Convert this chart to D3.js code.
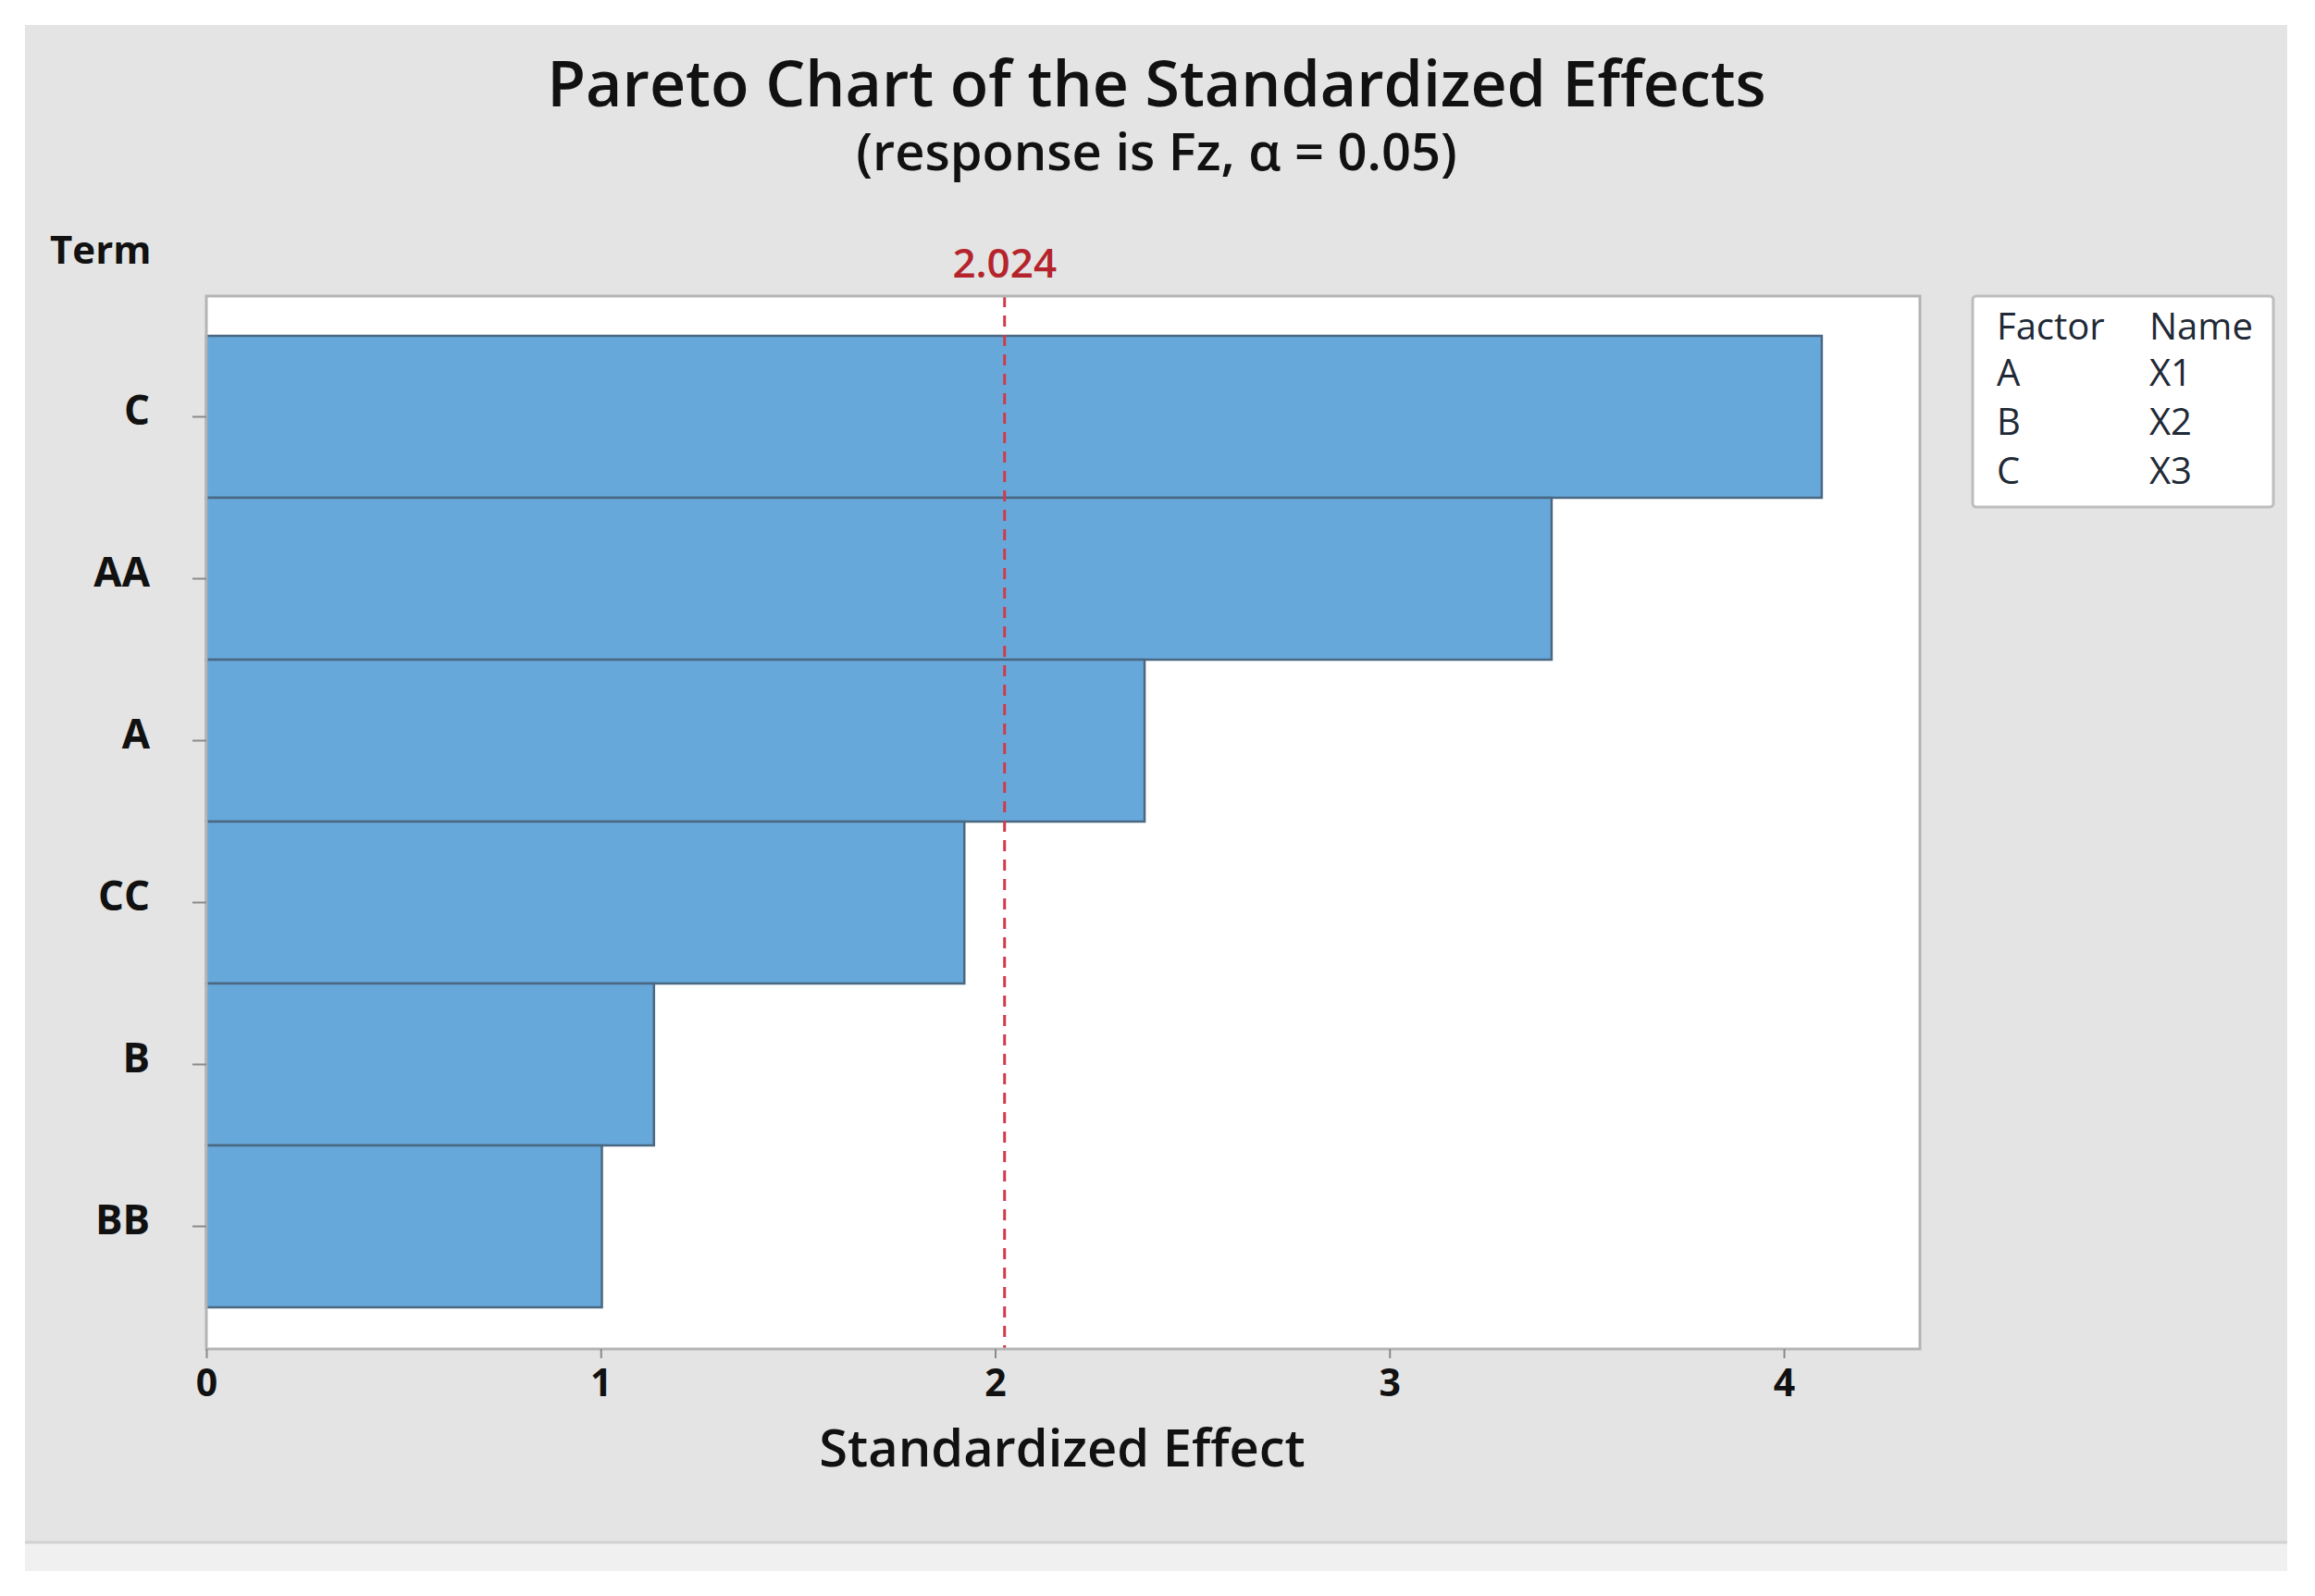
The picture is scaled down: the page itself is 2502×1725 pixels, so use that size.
<!DOCTYPE html>
<html>
<head>
<meta charset="utf-8">
<script src="https://cdn.jsdelivr.net/npm/d3@7"></script>
<style>
  html, body { margin: 0; padding: 0; background: #ffffff; }
  svg { display: block; }
  text { font-family: "Open Sans", "Noto Sans", sans-serif; fill: #111; }
</style>
</head>
<body>
<svg id="chart" width="2502" height="1725"></svg>
<script>
// ---- data ----
const terms = ["C", "AA", "A", "CC", "B", "BB"];
const effects = [4.096, 3.411, 2.379, 1.922, 1.135, 1.003];
const xTicks = [0, 1, 2, 3, 4];
const refValue = 2.024;
const refLabel = "2.024";
const legendFactors = ["A", "B", "C"];
const legendNames = ["X1", "X2", "X3"];
const titleText = "Pareto Chart of the Standardized Effects";
const subtitleText = "(response is Fz, \u03b1 = 0.05)";
const xTitle = "Standardized Effect";
const yTitle = "Term";

// ---- layout ----
const plot = { left: 223, right: 2075, top: 320, bottom: 1458 };
const barsTop = 363, barsBottom = 1413;

const svg = d3.select("#chart");

// outer panel
svg.append("rect").attr("x", 27).attr("y", 27).attr("width", 2445).attr("height", 1671).attr("fill", "#f0f0f0");
svg.append("rect").attr("x", 27).attr("y", 27).attr("width", 2445).attr("height", 1640).attr("fill", "#e4e4e4");
svg.append("line").attr("x1", 27).attr("x2", 2472).attr("y1", 1667).attr("y2", 1667).attr("stroke", "#d2d2d2").attr("stroke-width", 3);

// scales
const x = d3.scaleLinear().domain([0, (plot.right - plot.left) / 426.25]).range([plot.left, plot.right]);
const y = d3.scaleBand().domain(terms).range([barsTop, barsBottom]).padding(0);

// plot background
svg.append("rect")
  .attr("x", plot.left).attr("y", plot.top)
  .attr("width", plot.right - plot.left).attr("height", plot.bottom - plot.top)
  .attr("fill", "#ffffff");

// bars
svg.append("g").selectAll("rect")
  .data(terms.map((t, i) => ({ term: t, value: effects[i] })))
  .join("rect")
  .attr("x", x(0))
  .attr("y", d => y(d.term))
  .attr("width", d => x(d.value) - x(0))
  .attr("height", y.bandwidth())
  .attr("fill", "#67a8db")
  .attr("stroke", "#4a6882")
  .attr("stroke-width", 2.5);

// reference line
svg.append("line")
  .attr("x1", x(refValue)).attr("x2", x(refValue))
  .attr("y1", plot.top).attr("y2", plot.bottom)
  .attr("stroke", "#d23a4a").attr("stroke-width", 3)
  .attr("stroke-dasharray", "12,9");
svg.append("text")
  .attr("x", x(refValue)).attr("y", 300)
  .attr("text-anchor", "middle")
  .style("font-size", "44px").style("font-weight", 600)
  .style("fill", "#b5242c")
  .text(refLabel);

// plot border
svg.append("rect")
  .attr("x", plot.left).attr("y", plot.top)
  .attr("width", plot.right - plot.left).attr("height", plot.bottom - plot.top)
  .attr("fill", "none").attr("stroke", "#b4b4b4").attr("stroke-width", 3);

// y axis
const yAxis = svg.append("g")
  .attr("transform", `translate(${plot.left},0)`)
  .call(d3.axisLeft(y).tickSize(15).tickPadding(46));
yAxis.select(".domain").remove();
yAxis.selectAll(".tick line").attr("stroke", "#8a8a8a").attr("stroke-width", 2);
yAxis.selectAll(".tick text")
  .attr("dy", "0.2em")
  .style("font-size", "44px").style("font-weight", 700)
  .style("font-family", "'Open Sans', sans-serif").style("fill", "#111");

// x axis
const xAxis = svg.append("g")
  .attr("transform", `translate(0,${plot.bottom})`)
  .call(d3.axisBottom(x).tickValues(xTicks).tickFormat(d3.format("d")).tickSize(10).tickPadding(12));
xAxis.select(".domain").remove();
xAxis.selectAll(".tick line").attr("stroke", "#8a8a8a").attr("stroke-width", 2);
xAxis.selectAll(".tick text")
  .style("font-size", "41px").style("font-weight", 700)
  .style("font-family", "'Open Sans', sans-serif").style("fill", "#111");

// titles
svg.append("text").attr("x", 1250).attr("y", 115).attr("text-anchor", "middle")
  .style("font-size", "68px").style("font-weight", 600).text(titleText);
svg.append("text").attr("x", 1250).attr("y", 184).attr("text-anchor", "middle")
  .style("font-size", "56px").style("font-weight", 600).text(subtitleText);
svg.append("text").attr("x", 1148).attr("y", 1585).attr("text-anchor", "middle")
  .style("font-size", "56px").style("font-weight", 600).text(xTitle);
svg.append("text").attr("x", 54).attr("y", 285).attr("text-anchor", "start")
  .style("font-size", "42px").style("font-weight", 700).text(yTitle);

// legend
const lg = svg.append("g");
lg.append("rect").attr("x", 2132).attr("y", 320).attr("width", 325).attr("height", 228)
  .attr("rx", 4).attr("fill", "#ffffff").attr("stroke", "#bdbdbd").attr("stroke-width", 3);
lg.append("text").attr("x", 2158).attr("y", 367).style("font-size", "40px").style("fill", "#1f2a36").text("Factor");
lg.append("text").attr("x", 2323).attr("y", 367).style("font-size", "40px").style("fill", "#1f2a36").text("Name");
const rowY = d3.scalePoint().domain(legendFactors).range([417, 523]);
lg.selectAll(".lf").data(legendFactors).join("text").attr("class", "lf")
  .attr("x", 2158).attr("y", d => rowY(d)).style("font-size", "40px").style("fill", "#1f2a36").text(d => d);
lg.selectAll(".ln").data(legendNames).join("text").attr("class", "ln")
  .attr("x", 2323).attr("y", (d, i) => rowY(legendFactors[i])).style("font-size", "40px").style("fill", "#1f2a36").text(d => d);
</script>
</body>
</html>
